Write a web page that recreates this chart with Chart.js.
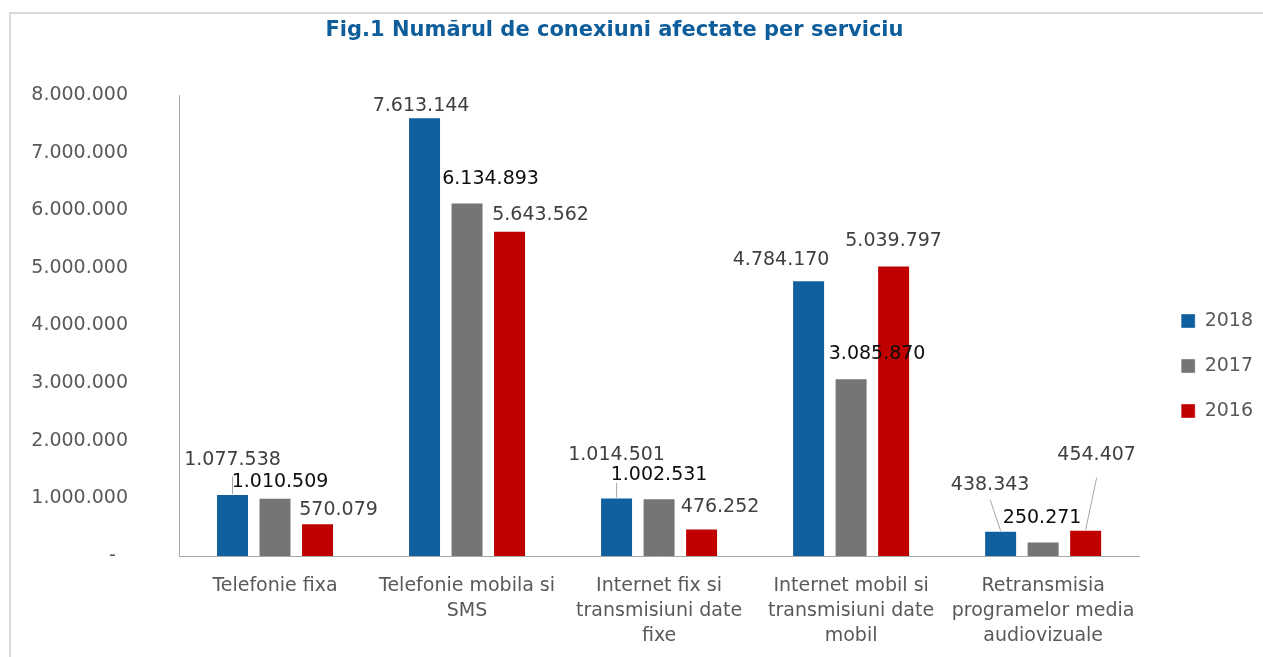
<!DOCTYPE html>
<html>
<head>
<meta charset="utf-8">
<script src="https://cdn.jsdelivr.net/npm/chart.js@4.4.1/dist/chart.umd.min.js"></script>
<style>
  html, body { margin: 0; padding: 0; background: #fff; overflow: hidden; }
  #wrap { position: relative; width: 1263px; height: 657px; }
  #frame { position: absolute; left: 9px; top: 12px; right: -10px; bottom: -10px; border: 2px solid #D9D9D9; }
  #chart { position: absolute; left: 0; top: 0; }
</style>
</head>
<body>
<div id="wrap">
  <div id="frame"></div>
  <canvas id="chart" width="1263" height="657"></canvas>
</div>
<script>
const categories = [
  ['Telefonie fixa'],
  ['Telefonie mobila si', 'SMS'],
  ['Internet fix si', 'transmisiuni date', 'fixe'],
  ['Internet mobil si', 'transmisiuni date', 'mobil'],
  ['Retransmisia', 'programelor media', 'audiovizuale'],
];
const seriesNames = ['2018', '2017', '2016'];
const values2018 = [1077538, 7613144, 1014501, 4784170, 438343];
const values2017 = [1010509, 6134893, 1002531, 3085870, 250271];
const values2016 = [570079, 5643562, 476252, 5039797, 454407];
const yMin = 0, yMax = 8000000, yStep = 1000000;

const BLUE = '#1060A0';
const GRAY = '#757575';
const RED  = '#C00000';
const FONT = 'DejaVu Sans';

// label placement (Excel had them moved by hand), relative to bar top centre
const labelStyle = [
  { color: '#404040', dx: [0, -3.5, 0, -27.5, -10.5], dy: [-33.5, -11, -42.5, -20, -46], leader: [16, null, 28, null, 15] },
  { color: '#0D0D0D', dx: [5, 23.5, 0, 26, -1],       dy: [-15.5, -23, -23.5, -24, -24], leader: [null, null, null, null, null] },
  { color: '#404040', dx: [21, 31, 18.5, 0, 11],      dy: [-13.5, -15.5, -21, -24.5, -75], leader: [null, null, null, null, 23] },
];

const fmt = v => v === 0 ? '-  ' : String(v).replace(/\B(?=(\d{3})+(?!\d))/g, '.');

const dataLabels = {
  id: 'dataLabels',
  afterDatasetsDraw(chart) {
    const ctx = chart.ctx;
    ctx.save();
    ctx.font = '19px ' + FONT;
    ctx.textAlign = 'center';
    ctx.textBaseline = 'middle';
    chart.data.datasets.forEach((ds, i) => {
      const st = labelStyle[i];
      chart.getDatasetMeta(i).data.forEach((bar, j) => {
        const lx = bar.x + st.dx[j], ly = bar.y + st.dy[j];
        if (st.leader[j] != null) {
          ctx.strokeStyle = '#A6A6A6';
          ctx.lineWidth = 1;
          ctx.beginPath();
          ctx.moveTo(lx, ly + st.leader[j]);
          ctx.lineTo(bar.x, bar.y);
          ctx.stroke();
        }
        ctx.fillStyle = st.color;
        ctx.fillText(fmt(ds.data[j]), lx, ly);
      });
    });
    ctx.restore();
  }
};

const mkSet = (label, data, color) => ({
  label, data, backgroundColor: color,
  borderColor: 'rgba(255,255,255,0.35)', borderWidth: 1,
  barPercentage: 0.776, categoryPercentage: 0.664,
});

new Chart(document.getElementById('chart'), {
  type: 'bar',
  data: {
    labels: categories,
    datasets: [
      mkSet(seriesNames[0], values2018, BLUE),
      mkSet(seriesNames[1], values2017, GRAY),
      mkSet(seriesNames[2], values2016, RED),
    ]
  },
  options: {
    responsive: false,
    animation: false,
    // negative left padding only pulls the centred title a bit to the left
    layout: { padding: { left: -34, right: 0, top: 0, bottom: 0 } },
    plugins: {
      title: {
        display: true,
        text: 'Fig.1 Numărul de conexiuni afectate per serviciu',
        color: '#0F5E9C',
        font: { family: FONT, size: 21, weight: 'bold' },
        padding: { top: 18.4, bottom: 51.4 }
      },
      legend: {
        position: 'right',
        title: { display: true, text: '', padding: 0, font: { size: 75, lineHeight: 1 } },
        labels: { boxWidth: 14, boxHeight: 14, padding: 26, color: '#595959', font: { family: FONT, size: 19 } }
      },
      tooltip: { enabled: false }
    },
    scales: {
      x: {
        grid: { display: false, drawTicks: false },
        border: { display: true, color: '#A6A6A6', width: 1 },
        ticks: { color: '#595959', padding: 18, maxRotation: 0, autoSkip: false, font: { family: FONT, size: 19, lineHeight: 1.316 } },
        afterFit(s) { s.height = 101; }
      },
      y: {
        min: yMin, max: yMax,
        grid: { display: false, drawTicks: false },
        border: { display: true, color: '#A6A6A6', width: 1 },
        ticks: { stepSize: yStep, color: '#595959', padding: 51, font: { family: FONT, size: 19 }, callback: v => fmt(v) },
        afterFit(s) { s.width = 213; }
      },
      yR: {
        position: 'right', display: true,
        grid: { display: false, drawTicks: false },
        border: { display: false },
        ticks: { display: false },
        afterFit(s) { s.width = 16; }
      }
    }
  },
  plugins: [dataLabels]
});
</script>
</body>
</html>
